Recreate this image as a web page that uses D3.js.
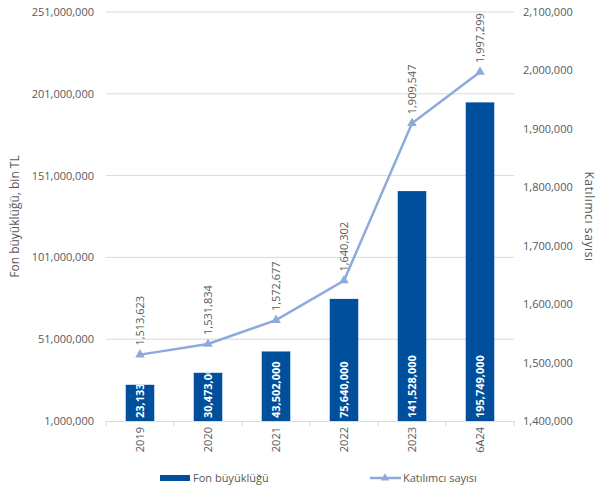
<!DOCTYPE html>
<html>
<head>
<meta charset="utf-8">
<script src="https://cdn.jsdelivr.net/npm/d3@7"></script>
<style>
  body { margin: 0; background: #fff; }
  text { font-family: "Open Sans", "Noto Sans", sans-serif; }
</style>
</head>
<body>
<div id="chart"></div>
<script>
const years = ["2019", "2020", "2021", "2022", "2023", "6A24"];
const fundSize = [23133000, 30473000, 43502000, 75640000, 141528000, 195749000];
const participants = [1513623, 1531834, 1572677, 1640302, 1909547, 1997299];
const leftTicks = [1000000, 51000000, 101000000, 151000000, 201000000, 251000000];
const rightTicks = [1400000, 1500000, 1600000, 1700000, 1800000, 1900000, 2000000, 2100000];

const W = 605, H = 492;
const margin = { top: 12, right: 91, bottom: 71, left: 106 };
const width = W - margin.left - margin.right;
const height = H - margin.top - margin.bottom;

const svg = d3.select("#chart").append("svg")
    .attr("width", W)
    .attr("height", H);
const g = svg.append("g")
    .attr("transform", "translate(" + margin.left + "," + margin.top + ")");

const x = d3.scaleBand().domain(years).range([0, width]).paddingInner(0.58).paddingOuter(0.29);
const y = d3.scaleLinear().domain([1000000, 251000000]).range([height, 0]);
const y2 = d3.scaleLinear().domain([1400000, 2100000]).range([height, 0]);

const fmt = d3.format(",");

// gridlines
g.selectAll(".grid").data(leftTicks.slice(1))
  .enter().append("line")
    .attr("x1", 0).attr("x2", width)
    .attr("y1", d => y(d)).attr("y2", d => y(d))
    .attr("stroke", "#d9d9d9");

// left axis
const yAxis = g.append("g")
    .call(d3.axisLeft(y).tickValues(leftTicks).tickFormat(fmt).tickSize(0).tickPadding(12));
yAxis.select(".domain").remove();
yAxis.selectAll("text").attr("fill", "#595959").style("font-size", "11px");

// right axis
const y2Axis = g.append("g")
    .attr("transform", "translate(" + width + ",0)")
    .call(d3.axisRight(y2).tickValues(rightTicks).tickFormat(fmt).tickSize(0).tickPadding(9));
y2Axis.select(".domain").remove();
y2Axis.selectAll("text").attr("fill", "#595959").style("font-size", "11px");

// x axis
const xAxis = g.append("g")
    .attr("transform", "translate(0," + height + ")")
    .call(d3.axisBottom(x).tickSize(0));
xAxis.select(".domain").attr("stroke", "#d9d9d9");
xAxis.selectAll("text")
    .attr("fill", "#595959").style("font-size", "11px")
    .attr("transform", "rotate(-90)")
    .attr("x", -6).attr("y", 0).attr("dy", "0.35em")
    .attr("text-anchor", "end");
// tick separators between categories
g.selectAll(".sep").data(d3.range(years.length + 1))
  .enter().append("line")
    .attr("x1", i => i * width / years.length).attr("x2", i => i * width / years.length)
    .attr("y1", height).attr("y2", height + 5)
    .attr("stroke", "#d9d9d9");

// bars
const defs = svg.append("defs");
years.forEach((yr, i) => {
  defs.append("clipPath").attr("id", "clip" + i)
    .append("rect")
      .attr("x", x(yr)).attr("y", y(fundSize[i]))
      .attr("width", x.bandwidth()).attr("height", height - y(fundSize[i]));
});

g.selectAll(".bar").data(fundSize)
  .enter().append("rect")
    .attr("x", (d, i) => x(years[i]))
    .attr("y", d => y(d))
    .attr("width", x.bandwidth())
    .attr("height", d => height - y(d))
    .attr("fill", "#004f9c");

// bar labels, clipped to their bar
fundSize.forEach((d, i) => {
  g.append("g").attr("clip-path", "url(#clip" + i + ")")
    .append("text")
      .attr("transform", "translate(" + (x(years[i]) + x.bandwidth() / 2) + "," + (height - 3) + ") rotate(-90)")
      .attr("dy", "0.35em")
      .attr("fill", "#fff")
      .style("font-size", "11px")
      .style("font-weight", "bold")
      .text(fmt(d));
});

// line
const line = d3.line()
    .x((d, i) => x(years[i]) + x.bandwidth() / 2)
    .y(d => y2(d));
g.append("path")
    .datum(participants)
    .attr("d", line)
    .attr("fill", "none")
    .attr("stroke", "#8eaadb")
    .attr("stroke-width", 2.5);

g.selectAll(".marker").data(participants)
  .enter().append("path")
    .attr("d", d3.symbol(d3.symbolTriangle, 40))
    .attr("transform", (d, i) => "translate(" + (x(years[i]) + x.bandwidth() / 2) + "," + y2(d) + ")")
    .attr("fill", "#8eaadb");

g.selectAll(".linelabel").data(participants)
  .enter().append("text")
    .attr("transform", (d, i) => "translate(" + (x(years[i]) + x.bandwidth() / 2) + "," + (y2(d) - 9) + ") rotate(-90)")
    .attr("dy", "0.35em")
    .attr("fill", "#595959")
    .style("font-size", "11px")
    .text(d => fmt(d));

// axis titles
svg.append("text")
    .attr("transform", "translate(15," + (margin.top + height / 2) + ") rotate(-90)")
    .attr("text-anchor", "middle")
    .attr("dy", "0.35em")
    .attr("fill", "#595959")
    .style("font-size", "12px")
    .text("Fon büyüklüğü, bin TL");

svg.append("text")
    .attr("transform", "translate(589," + (margin.top + height / 2) + ") rotate(90)")
    .attr("text-anchor", "middle")
    .attr("dy", "0.35em")
    .attr("fill", "#595959")
    .style("font-size", "12px")
    .style("letter-spacing", "0.6px")
    .text("Katılımcı sayısı");

// legend
const leg = svg.append("g").attr("transform", "translate(160,478)");
leg.append("rect").attr("x", 0).attr("y", -3).attr("width", 30).attr("height", 6).attr("fill", "#004f9c");
leg.append("text").attr("x", 33).attr("dy", "0.35em").attr("fill", "#595959").style("font-size", "11px").text("Fon büyüklüğü");
leg.append("line").attr("x1", 210).attr("x2", 241).attr("stroke", "#8eaadb").attr("stroke-width", 2.5);
leg.append("path").attr("d", d3.symbol(d3.symbolTriangle, 30)).attr("transform", "translate(225,0)").attr("fill", "#8eaadb");
leg.append("text").attr("x", 243).attr("dy", "0.35em").attr("fill", "#595959").style("font-size", "11px").text("Katılımcı sayısı");
</script>
</body>
</html>
